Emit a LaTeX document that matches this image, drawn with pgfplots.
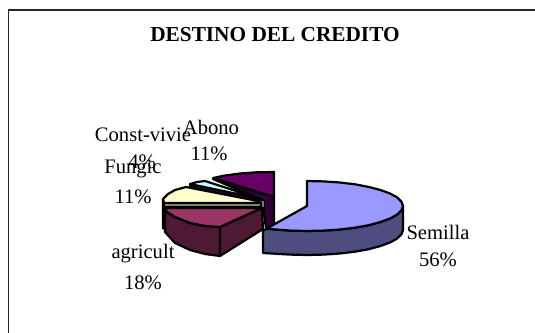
\documentclass[border=0pt]{standalone}
\usepackage{fontspec}
\setmainfont{Liberation Serif}
\usepackage{pgfplots}
\pgfplotsset{compat=1.18}
\definecolor{sem}{HTML}{9999FF}
\definecolor{semd}{HTML}{4D4D80}
\definecolor{agr}{HTML}{993366}
\definecolor{agrd}{HTML}{4D1933}
\definecolor{fun}{HTML}{FFFFCC}
\definecolor{fund}{HTML}{808066}
\definecolor{con}{HTML}{CCFFFF}
\definecolor{cond}{HTML}{668080}
\definecolor{abo}{HTML}{660066}
\definecolor{abod}{HTML}{330033}
\tikzset{lbl/.style={font=\fontsize{20.6bp}{22bp}\selectfont, inner sep=0pt, anchor=center}}
\begin{document}
\begin{tikzpicture}
\begin{axis}[
  scale only axis, width=535bp, height=333bp,
  xmin=0, xmax=535, ymin=0, ymax=333, y dir=reverse,
  axis line style={draw=none}, ticks=none, no markers, clip=true,
  every axis plot/.append style={draw=black, line width=2.2bp, line join=round},
]
% frame
\addplot[draw=black!85, line width=1.7bp] coordinates {(8.5,333) (8.5,10) (535,10)};
% Abono
\addplot[fill=abod] coordinates {(213,179) (274,197) (274,226) (266,228) (262,200)} -- cycle;
\addplot[fill=abo] coordinates {(213,178) (225,175.5) (240,173.5) (256,172.3) (274,172) (274,197)} -- cycle;
% Const-vivie
\addplot[fill=abod] coordinates {(190,184) (261,199) (264,207) (261,205) (190,187)} -- cycle;
\addplot[fill=con] coordinates {(190,184) (197,182) (205,181) (261,199)} -- cycle;
\addplot[fill=cond, line width=0.8bp] coordinates {(260,200) (264,200) (264,207) (260,207)} -- cycle;
% Fungic
\addplot[fill=abod!60!black] coordinates {(163,199) (163,228) (175,235) (258,207) (258,201)} -- cycle;
\addplot[fill=fun] coordinates {(163,199) (168,194) (175,190) (186,187) (258,201) (261,203) (164,203)} -- cycle;
\addplot[fill=fund] coordinates {(164,203) (261,203) (261,207) (164,207)} -- cycle;
% agricult
\addplot[fill=agrd] coordinates {(165,208) (167,212) (175,217) (190,223) (205,226) (220,227) (220,256) (205,254) (190,250) (175,243) (165,232)} -- cycle;
\addplot[fill=agrd] coordinates {(220,227) (262,208) (263,229) (220,256)} -- cycle;
\addplot[fill=agr] coordinates {(165,208) (262,208) (220,227) (205,226) (190,223) (175,217) (167,212)} -- cycle;
% Semilla
\addplot[fill=semd] coordinates {(403,206) (401.5,210.3) (397,214.6) (390,218.5) (380.5,222) (368.7,225.2) (355,227.7) (339.8,229.5) (323.7,230.6) (307,231) (290,230.6) (266.4,228.7) (263,231) (263,253) (290,254.6) (307,255) (323.7,254.6) (339.8,253.5) (355,251.7) (368.7,249.2) (380.5,246) (390,242.5) (397,238.6) (401.5,234.3) (403,230)} -- cycle;
\addplot[fill=sem] coordinates {(307,206) (307,181) (323.7,181.4) (340,182.5) (355,184.3) (369,187) (380.5,190) (390,193.5) (397.2,197.4) (401.5,201.7) (403,206) (401.5,210.3) (397,214.6) (390,218.5) (380.5,222) (368.7,225.2) (355,227.7) (339.8,229.5) (323.7,230.6) (307,231) (290,230.6) (266.4,228.7)} -- cycle;
% labels
\node[lbl, font=\fontsize{21.3bp}{22bp}\selectfont\bfseries] at (axis cs:275,35) {DESTINO DEL CREDITO};
\node[lbl] at (axis cs:438,232) {Semilla};
\node[lbl] at (axis cs:438,260) {56\%};
\node[lbl] at (axis cs:143,254) {agricult};
\node[lbl] at (axis cs:143,283) {18\%};
\node[lbl] at (axis cs:133,169) {Fungic};
\node[lbl] at (axis cs:133,197) {11\%};
\node[lbl] at (axis cs:143,135) {Const-vivie};
\node[lbl] at (axis cs:142,162) {4\%};
\node[lbl] at (axis cs:211,127) {Abono};
\node[lbl] at (axis cs:209,154) {11\%};
\end{axis}
\end{tikzpicture}
\end{document}
